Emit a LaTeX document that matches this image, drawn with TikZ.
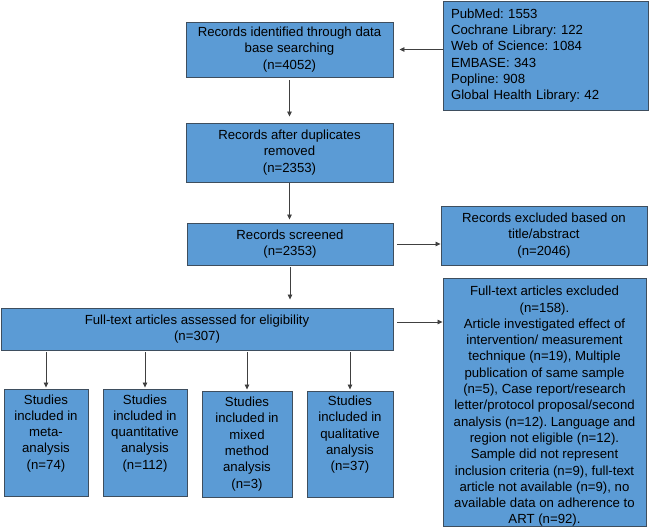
\documentclass[tikz,border=0pt]{standalone}
\usepackage{fontspec}
\setmainfont{Liberation Sans}
\usetikzlibrary{arrows.meta}
\definecolor{boxblue}{HTML}{5B9BD5}
\definecolor{boxline}{HTML}{3E4E5E}
\frenchspacing

\begin{document}
\begin{tikzpicture}[x=1pt,y=1pt]
\tikzstyle{every node}+=[inner sep=0pt, font=\fontsize{13.2}{16.3}\selectfont]
\tikzstyle{box}=[draw=boxline, fill=boxblue, line width=0.9pt, align=center]
\tikzstyle{link}=[draw=black!75, line width=0.8pt, -{Triangle[length=5pt,width=4.5pt]}]
\useasboundingbox (0,0) rectangle (650,-529);
\node [box, minimum width=205pt, minimum height=109pt, text width=189pt, align=left] (src) at (545.5,-55.5) {PubMed: 1553\\Cochrane Library: 122\\Web of Science: 1084\\EMBASE: 343\\Popline: 908\\Global Health Library: 42};
\node [box, minimum width=207pt, minimum height=55pt] (ident) at (289.5,-49.5) {Records identified through data\\base searching\\(n=4052)};
\node [box, minimum width=207pt, minimum height=59pt] (dup) at (289.5,-152.5) {Records after duplicates\\removed\\(n=2353)};
\node [box, minimum width=206pt, minimum height=42pt] (screen) at (290,-244) {Records screened\\(n=2353)};
\node [box, minimum width=206pt, minimum height=59pt] (excl) at (544,-235.5) {Records excluded based on\\title/abstract\\(n=2046)};
\node [box, minimum width=392pt, minimum height=42pt] (full) at (197,-329) {Full-text articles assessed for eligibility\\(n=307)};
\node [box, minimum width=203pt, minimum height=245pt] (ftexcl) at (544.5,-402.5) {\rule{0pt}{17.5pt}Full-text articles excluded\\(n=158).\\Article investigated effect of\\intervention/ measurement\\technique (n=19), Multiple\\publication of same sample\\(n=5), Case report/research\\letter/protocol proposal/second\\analysis (n=12). Language and\\region not eligible (n=12).\\Sample did not represent\\inclusion criteria (n=9), full-text\\article not available (n=9), no\\available data on adherence to\\ART (n=92).};
% studies included
\node [box, minimum width=84pt, minimum height=107pt] (meta) at (46,-442.5) {Studies\\included in\\meta-\\analysis\\(n=74)\\\strut};
\node [box, minimum width=84pt, minimum height=107pt] (quant) at (145,-442.5) {Studies\\included in\\quantitative\\analysis\\(n=112)\\\strut};
\node [box, minimum width=90pt, minimum height=106pt] (mixed) at (247,-444) {Studies\\included in\\mixed\\method\\analysis\\(n=3)};
\node [box, minimum width=86pt, minimum height=106pt] (qual) at (350,-444) {Studies\\included in\\qualitative\\analysis\\(n=37)\\\strut};
% arrows
\draw [link, shorten >=6pt] (src.west |- ident.east) -- (ident.east);
\draw [link, shorten <=3pt, shorten >=6pt] (ident.south) -- (dup.north);
\draw [link, shorten <=1pt, shorten >=3pt] (dup.south) -- (dup.south |- screen.north);
\draw [link, shorten <=4pt] (screen.east) -- (excl.west |- screen.east);
\draw [link, shorten <=2pt, shorten >=8pt] (screen.south) -- (screen.south |- full.north);
\draw [link, shorten <=4pt] ([yshift=7pt]full.east) -- ([yshift=7pt]full.east -| ftexcl.west);
\draw [link, shorten <=2pt, shorten >=1pt] (full.south -| meta.north) -- (meta.north);
\draw [link, shorten <=2pt, shorten >=1pt] (full.south -| quant.north) -- (quant.north);
\draw [link, shorten <=2pt, shorten >=1pt] (full.south -| mixed.north) -- (mixed.north);
\draw [link, shorten <=2pt, shorten >=1pt] (full.south -| qual.north) -- (qual.north);
\end{tikzpicture}
\end{document}
